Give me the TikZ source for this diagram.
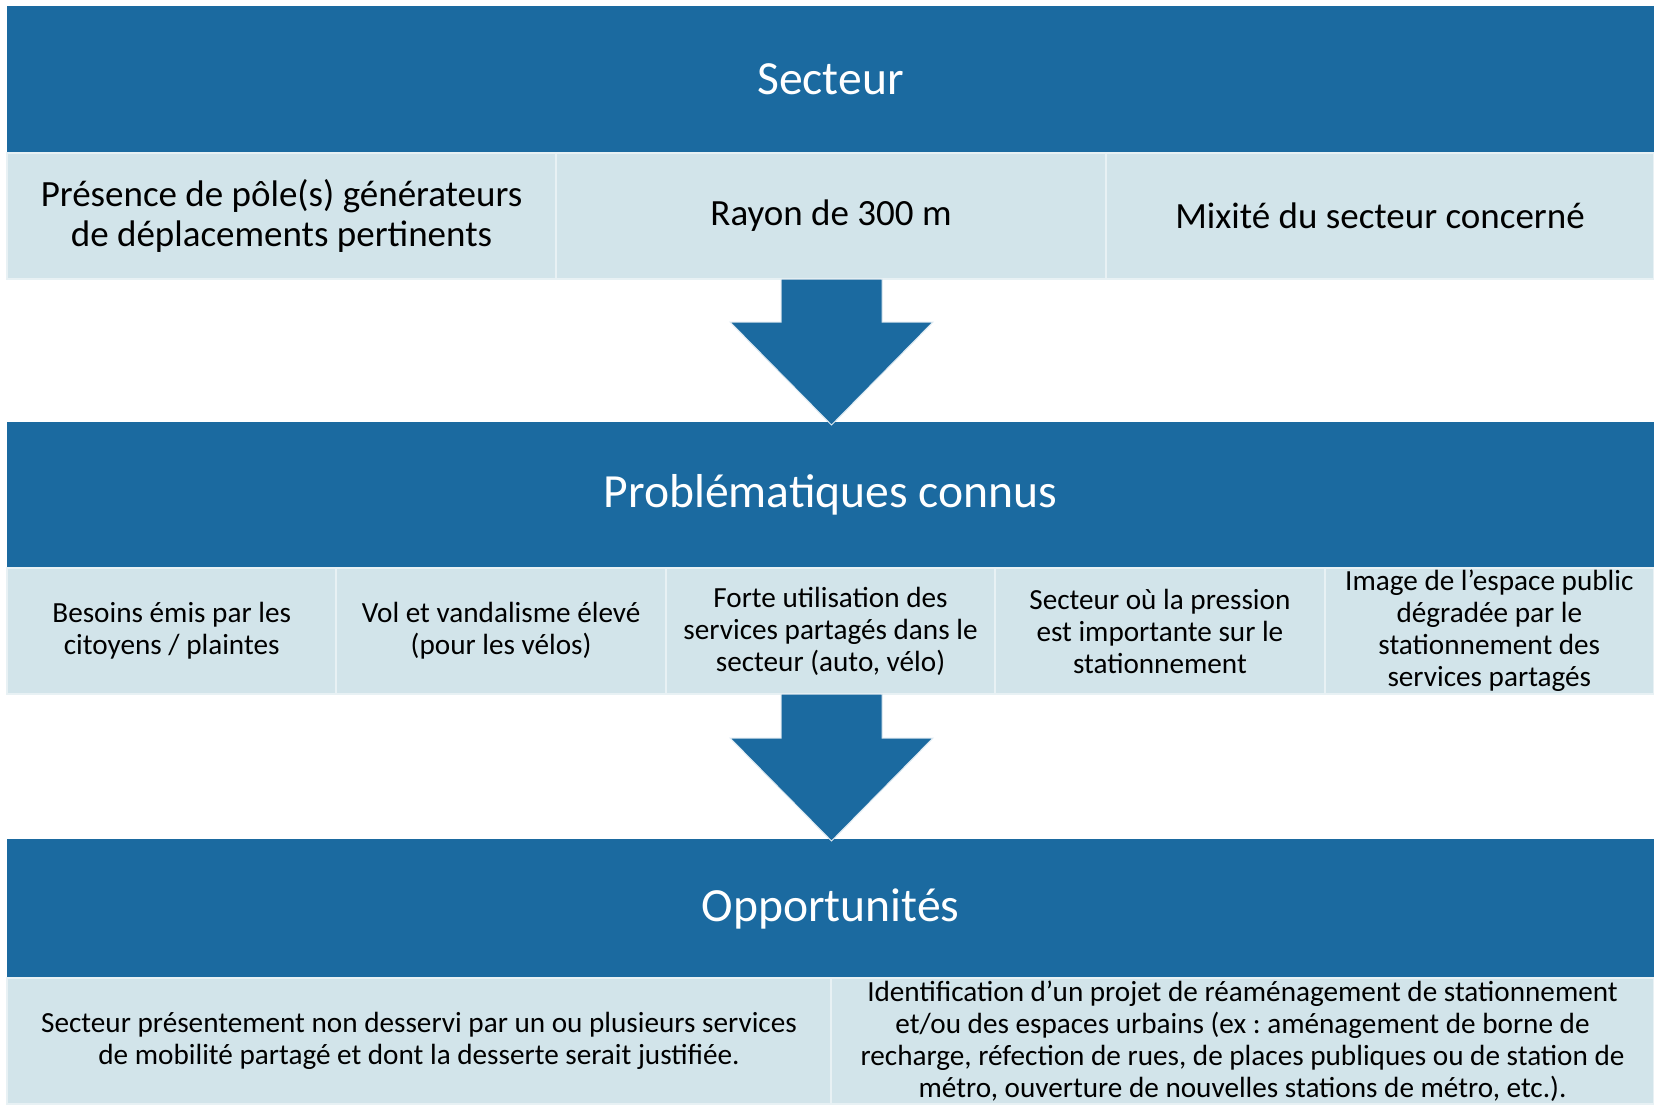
\documentclass[tikz,border=0pt]{standalone}
\usepackage{fontspec}
\setmainfont{Carlito}
\frenchspacing
\definecolor{hdrblue}{RGB}{27,106,160}
\definecolor{cellblue}{RGB}{210,228,234}
\definecolor{celledge}{RGB}{232,241,244}
\newcommand\hdrfont{\fontsize{47.6}{57}\selectfont}
\newcommand\bigcellfont{\fontsize{37}{40}\selectfont}
\newcommand\smallcellfont{\fontsize{29.2}{32}\selectfont}
\tikzset{
  hdr/.style={fill=hdrblue, draw=none, text=white, font=\hdrfont, anchor=north west,
    minimum width=1647pt, inner sep=0pt, outer sep=0pt},
  cellbox/.style={fill=cellblue, draw=celledge, line width=2pt, text=black, align=center,
    anchor=north west, minimum height=126pt, inner sep=0pt, outer sep=0pt},
  bigcell/.style={cellbox, font=\bigcellfont},
  smallcell/.style={cellbox, font=\smallcellfont},
  blockarrow/.style={fill=hdrblue, draw=white!85!hdrblue, line width=1pt}
}
\begin{document}
\begin{tikzpicture}[x=1pt,y=-1pt]
\useasboundingbox (0,0) rectangle (1654,1104);
% headers
\node[hdr, minimum height=147pt] (h1) at (7,6) {Secteur};
\node[hdr, minimum height=146pt] (h2) at (7,422) {Problématiques connus};
\node[hdr, minimum height=139pt] (h3) at (7,839) {Opportunités};
% row 1
\node[bigcell, minimum width=549pt] (a1) at (7,153) {Présence de pôle(s) générateurs\\de déplacements pertinents};
\node[bigcell, minimum width=550pt] (a2) at (556,153) {Rayon de 300 m};
\node[bigcell, minimum width=548pt] (a3) at (1106,153) {Mixité du secteur concerné};
% row 2
\node[smallcell, minimum width=329.4pt] (b1) at (7,568) {Besoins émis par les\\citoyens / plaintes};
\node[smallcell, minimum width=329.4pt] (b2) at (336.4,568) {Vol et vandalisme élevé\\(pour les vélos)};
\node[smallcell, minimum width=329.4pt] (b3) at (665.8,568) {Forte utilisation des\\services partagés dans le\\secteur (auto, vélo)};
\node[smallcell, minimum width=329.4pt] (b4) at (995.2,568) {Secteur où la pression\\est importante sur le\\stationnement};
\node[smallcell, minimum width=329.4pt] (b5) at (1324.6,568) {Image de l’espace public\\dégradée par le\\stationnement des\\services partagés};
% row 3
\node[smallcell, minimum width=824pt] (c1) at (7,978) {Secteur présentement non desservi par un ou plusieurs services\\de mobilité partagé et dont la desserte serait justifiée.};
\node[smallcell, minimum width=823pt] (c2) at (831,978) {Identification d’un projet de réaménagement de stationnement\\et/ou des espaces urbains (ex : aménagement de borne de\\recharge, réfection de rues, de places publiques ou de station de\\métro, ouverture de nouvelles stations de métro, etc.).};
% block arrows
\draw[blockarrow] (781,279) -- (882,279) -- (882,322) -- (933,322) -- (831.5,425)
  -- (730,322) -- (781,322) -- cycle;
\draw[blockarrow] (781,694) -- (882,694) -- (882,738) -- (933,738) -- (831.5,841)
  -- (730,738) -- (781,738) -- cycle;
\end{tikzpicture}
\end{document}
